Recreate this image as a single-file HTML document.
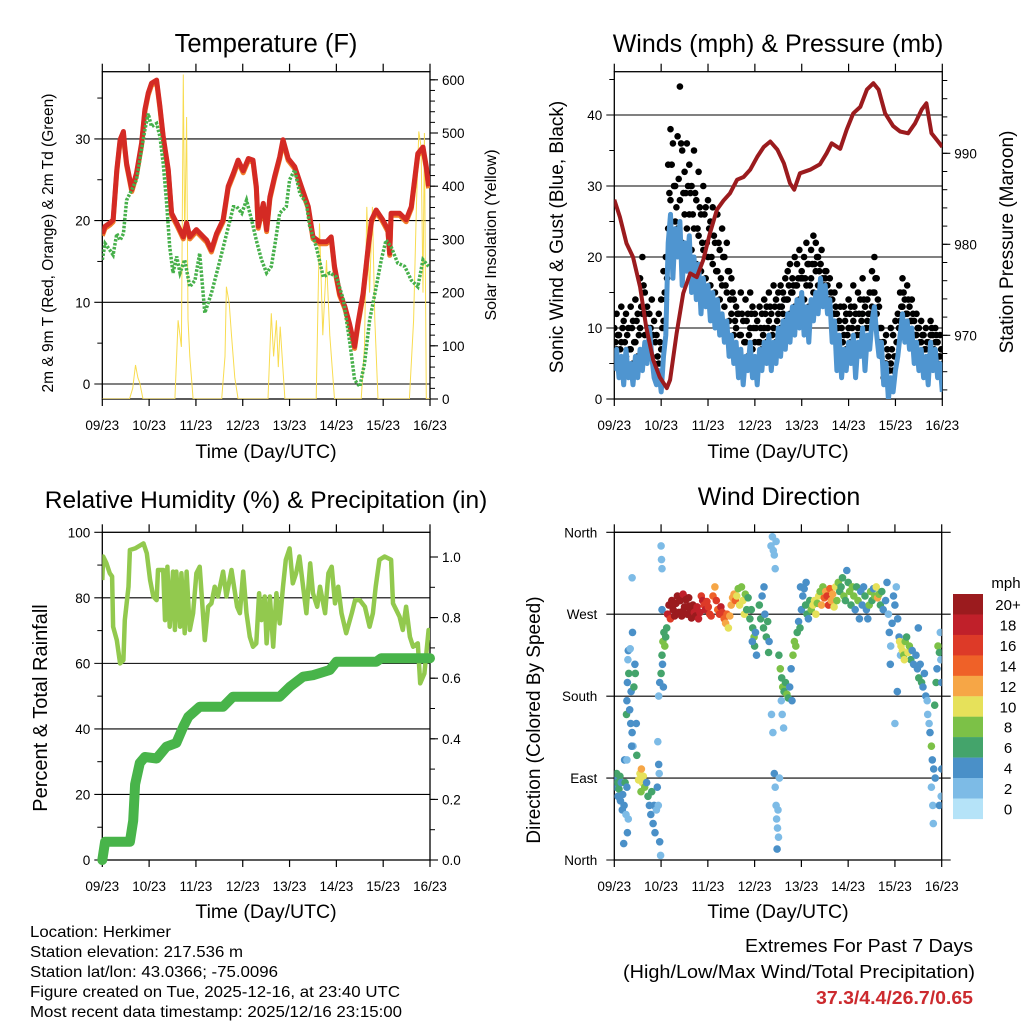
<!DOCTYPE html>
<html><head><meta charset="utf-8"><title>Herkimer station meteogram</title>
<style>
html,body{margin:0;padding:0;background:#fff;}
svg{display:block;font-family:"Liberation Sans",Arial,sans-serif;}
</style></head>
<body>
<svg id="root" width="1024" height="1024" viewBox="0 0 1024 1024" xmlns="http://www.w3.org/2000/svg">
<defs>
<clipPath id="c1"><rect x="102.3" y="71.7" width="327.7" height="327.3"/></clipPath>
<clipPath id="c2"><rect x="614.3" y="71.7" width="328" height="327.3"/></clipPath>
<clipPath id="c3"><rect x="102.3" y="532.3" width="327.7" height="327.7"/></clipPath>
<clipPath id="c4"><rect x="614.3" y="532.3" width="327.4" height="327.7"/></clipPath>
</defs>
<text x="266" y="52" font-size="25.5" text-anchor="middle">Temperature (F)</text>
<text x="778" y="52" font-size="25" text-anchor="middle">Winds (mph) &amp; Pressure (mb)</text>
<text x="266" y="508" font-size="24.5" text-anchor="middle">Relative Humidity (%) &amp; Precipitation (in)</text>
<text x="779" y="505" font-size="25" text-anchor="middle">Wind Direction</text>
<text x="266" y="458" font-size="19.5" text-anchor="middle">Time (Day/UTC)</text>
<text x="778" y="458" font-size="19.5" text-anchor="middle">Time (Day/UTC)</text>
<text x="266" y="918" font-size="19.5" text-anchor="middle">Time (Day/UTC)</text>
<text x="778" y="918" font-size="19.5" text-anchor="middle">Time (Day/UTC)</text>
<text transform="translate(53,243) rotate(-90)" font-size="15.5" text-anchor="middle">2m &amp; 9m T (Red, Orange) &amp; 2m Td (Green)</text>
<text transform="translate(496,235) rotate(-90)" font-size="16" text-anchor="middle">Solar Insolation (Yellow)</text>
<text transform="translate(563,237) rotate(-90)" font-size="19" text-anchor="middle">Sonic Wind &amp; Gust (Blue, Black)</text>
<text transform="translate(1013,242) rotate(-90)" font-size="19" text-anchor="middle">Station Pressure (Maroon)</text>
<text transform="translate(47,708) rotate(-90)" font-size="20" text-anchor="middle">Percent &amp; Total Rainfall</text>
<text transform="translate(540,720) rotate(-90)" font-size="19" text-anchor="middle">Direction (Colored By Speed)</text>
<g font-size="16">
<text x="30" y="937" textLength="141" lengthAdjust="spacingAndGlyphs">Location: Herkimer</text>
<text x="30" y="957" textLength="213" lengthAdjust="spacingAndGlyphs">Station elevation: 217.536 m</text>
<text x="30" y="977" textLength="248" lengthAdjust="spacingAndGlyphs">Station lat/lon: 43.0366; -75.0096</text>
<text x="30" y="997" textLength="370" lengthAdjust="spacingAndGlyphs">Figure created on Tue, 2025-12-16, at 23:40 UTC</text>
<text x="30" y="1017" textLength="372" lengthAdjust="spacingAndGlyphs">Most recent data timestamp: 2025/12/16 23:15:00</text>
</g>
<text x="745" y="952" font-size="18" textLength="228" lengthAdjust="spacingAndGlyphs">Extremes For Past 7 Days</text>
<text x="623" y="978" font-size="18" textLength="352" lengthAdjust="spacingAndGlyphs">(High/Low/Max Wind/Total Precipitation)</text>
<text x="816" y="1004" font-size="18" font-weight="bold" fill="#cc2a2e" textLength="157" lengthAdjust="spacingAndGlyphs">37.3/4.4/26.7/0.65</text>
</svg>
<script>
// ---- Temperature panel data ----
const tempT=[0,0.06,0.16,0.23,0.31,0.38,0.45,0.48,0.52,0.63,0.73,0.84,0.91,0.98,1.05,1.16,1.23,1.30,1.41,1.48,1.59,1.73,1.80,1.87,2.01,2.16,2.23,2.33,2.44,2.58,2.69,2.80,2.90,3.01,3.12,3.22,3.29,3.33,3.44,3.51,3.58,3.68,3.79,3.86,3.97,4.11,4.25,4.40,4.50,4.64,4.79,4.89,4.96,5.07,5.18,5.28,5.39,5.46,5.57,5.68,5.75,5.85,5.99,6.10,6.14,6.17,6.35,6.49,6.60,6.74,6.85,6.92,6.97];
const tempV=[18.4,19.3,19.7,20.1,26.2,29.9,30.9,29,27,23.8,25.8,29.5,33.6,35.6,36.8,37.2,34,30.3,26.2,20.9,19.7,18,19.7,18,18.9,18,17.6,16.4,18.4,20.1,24.2,25.8,27.4,26.1,27.6,27.4,24.2,19.3,22.1,18.9,22.9,25.4,27.8,29.9,27.6,26.6,24.2,21.7,18,17.4,17.4,18,14.4,11.1,9.5,7.4,4.6,7.4,11.1,16.8,20.1,21.3,20.1,18.9,16,20.9,20.9,20.1,21.7,28.2,29,26.6,24.2];
const dewT=[0,0.06,0.16,0.23,0.31,0.38,0.45,0.52,0.63,0.73,0.80,0.91,0.98,1.05,1.16,1.23,1.30,1.37,1.44,1.51,1.59,1.66,1.76,1.87,1.98,2.08,2.19,2.33,2.48,2.62,2.80,2.87,2.98,3.08,3.19,3.29,3.40,3.51,3.61,3.68,3.79,3.93,4.00,4.11,4.22,4.36,4.43,4.57,4.72,4.86,5.00,5.15,5.29,5.39,5.50,5.60,5.71,5.85,5.96,6.06,6.17,6.31,6.46,6.60,6.74,6.85,6.97];
const dewV=[15.2,17.2,16.4,15.8,18.4,17.6,18.4,22.5,23.8,25,27.4,31.1,33.1,31.5,31.9,30.3,27,22.5,16.8,13.6,15.6,13.6,15.2,11.9,12.7,16,8.7,11.1,14.4,17.6,21.7,21.7,20.9,22.5,20.1,17.6,15.2,13.6,14.4,16.8,20.9,21.7,25,26.2,23.3,22.1,19.3,16.8,13.1,13.6,13.1,10.3,5,0.5,-0.3,2.5,7.8,11.9,15.2,17.6,16.8,14.8,14.4,12.7,11.9,15.2,14.4];
const solarT=[0,0.58,0.65,0.71,0.76,0.80,0.87,1.55,1.62,1.69,1.73,1.76,1.80,1.83,1.87,1.94,2.55,2.62,2.65,2.71,2.76,2.83,2.90,3.54,3.61,3.66,3.72,3.76,3.80,3.90,4.57,4.64,4.71,4.79,4.86,4.96,5.53,5.60,5.65,5.71,5.77,5.82,5.89,6.56,6.65,6.71,6.76,6.81,6.85,6.88,6.92,7.0];
const solarV=[0,0,20,64,40,30,0,0,148,98,610,300,530,150,80,0,0,80,211,180,120,40,0,0,161,80,148,60,136,0,0,330,120,261,120,0,0,100,361,200,361,150,0,0,148,361,503,474,200,500,0,0];
const tempTicks=[0,10,20,30];
const solarTicks=[0,100,200,300,400,500,600];
const dayLabels=['09/23','10/23','11/23','12/23','13/23','14/23','15/23','16/23'];
// ---- Winds panel data (0.05 day spacing) ----
const windStep=0.05;
const windV=[4,7,3,6,2,7,3,5,2,6,3, 7,4,8,5,10,6,3,2,4,1, 6,9,22,26,17,24,20,25,16,22, 18,23,15,20,14,19,12,17,13,16, 11,15,10,14,9,12,8,11,6,9, 5,8,3,7,2,6,4,8,3,6, 2,7,4,8,5,9,4,8,5,10, 6,11,7,12,8,13,9,14,10,15, 9,13,8,14,11,15,12,17,13,16, 12,14,8,11,4,9,3,7,4,8, 5,9,3,8,6,10,4,9,7,11, 13,9,6,8,2,5,0,3,1,4, 6,9,12,8,11,7,10,5,8,4, 7,3,6,2,8,4,7,3,5,1];
const gustHi=[10,12,9,13,11,12,10,13,11,14,12, 17,20,15,13,12,14,11,9,12,14, 18,20,33,38,36,30,37,44,35,32, 36,33,30,35,28,32,26,30,27,28, 25,27,22,26,21,24,20,22,18,17, 14,13,12,15,11,14,12,15,13,12, 11,13,12,14,13,15,12,16,14,15, 16,15,17,18,19,17,20,19,21,18, 20,22,19,21,23,22,20,19,17,18, 16,17,14,15,12,16,10,13,12,14, 13,16,12,15,14,17,13,14,15,18, 20,17,13,10,8,9,6,10,9,11, 12,15,17,14,16,13,14,11,12,10, 11,9,10,8,11,9,10,8,9,7];
const gustMid=[8,9,7,10,8,9,7,10,8,11,9, 13,16,12,10,10,9,8,6,8,10, 15,17,29,33,30,27,31,36,29,29, 30,29,26,29,24,27,22,26,22,24, 20,23,18,22,17,20,16,18,14,15, 11,12,9,12,8,11,9,12,10,10, 8,10,9,12,10,13,9,13,11,13, 13,14,14,16,15,16,16,17,17,17, 17,19,16,19,19,20,18,21,16,18, 14,15,12,13,10,13,8,11,9,12, 10,13,9,12,11,14,10,12,12,15, 17,14,10,8,5,7,4,7,6,8, 10,13,15,12,14,11,12,9,10,8, 9,7,8,6,10,7,9,6,7,5];
const gustLo=[5,7,4,8,5,6,4,7,5,8,6, 10,12,9,7,8,6,5,4,5,7, 11,14,24,28,22,25,24,28,22,26, 24,26,21,24,19,23,18,21,17,20, 16,19,15,18,14,16,13,15,11,12, 9,10,6,9,5,8,6,10,7,8, 5,8,7,10,8,11,7,10,8,12, 10,12,11,14,12,15,13,16,14,17, 14,16,13,17,15,18,16,19,15,17, 13,14,10,12,7,11,5,9,7,10, 8,11,6,10,9,12,7,11,10,13, 15,12,8,6,3,5,2,5,4,6, 8,11,13,10,12,9,11,7,9,6, 8,5,7,4,9,6,8,5,6,3];
const presT=[0,0.12,0.26,0.40,0.55,0.68,0.83,0.97,1.12,1.19,1.33,1.47,1.62,1.76,1.90,2.04,2.19,2.33,2.47,2.62,2.76,2.90,3.05,3.19,3.33,3.48,3.62,3.75,3.84,3.96,4.18,4.39,4.53,4.64,4.82,4.96,5.10,5.25,5.39,5.53,5.64,5.78,5.95,6.10,6.27,6.42,6.56,6.66,6.77,6.88,7.0];
const presV=[984.9,983.0,980.1,978.6,975.3,970.9,967.3,965.4,964.2,965.1,970.2,974.6,976.8,976.4,978.3,981.2,983.8,984.8,985.6,987.1,987.4,988.2,989.6,990.7,991.3,990.4,988.9,986.7,986.0,987.8,988.2,988.8,990.0,991.1,990.5,992.6,994.4,995.1,997.0,997.7,997.0,994.4,993.0,992.4,992.2,993.3,994.8,995.5,992.2,991.5,990.7];
const windTicks=[0,10,20,30,40];
const presTicks=[970,980,990];
// ---- Humidity / precipitation data ----
const rhT=[0,0.02,0.09,0.16,0.21,0.23,0.31,0.38,0.45,0.48,0.56,0.59,0.70,0.88,0.95,1.02,1.09,1.16,1.19,1.30,1.34,1.39,1.44,1.51,1.55,1.58,1.66,1.69,1.76,1.80,1.87,1.94,2.01,2.08,2.19,2.26,2.33,2.40,2.47,2.58,2.65,2.76,2.88,2.94,3.01,3.08,3.15,3.22,3.29,3.35,3.40,3.47,3.51,3.58,3.65,3.72,3.79,3.86,3.92,4.00,4.07,4.14,4.21,4.29,4.36,4.44,4.50,4.59,4.65,4.76,4.83,4.90,4.97,5.04,5.11,5.21,5.33,5.40,5.50,5.61,5.71,5.78,5.84,5.92,6.03,6.17,6.21,6.35,6.42,6.49,6.57,6.64,6.74,6.79,6.88,6.97,7.0];
const rhV=[85.4,92.6,90.5,87.5,86.5,71.2,67.1,60.0,61.0,73.2,83.4,94.6,95.1,96.6,93.6,85.4,80.4,79.3,88.5,88.5,73.2,89.5,71.2,88.0,70.2,88.0,71.2,87.5,69.2,88.0,70.2,75.3,87.5,89.5,67.1,77.3,78.3,83.4,80.4,88.0,80.4,88.5,77.3,75.3,88.0,75.3,68.1,65.1,66.1,81.4,73.2,80.4,66.1,80.4,65.1,81.4,72.2,83.4,91.6,95.1,84.4,87.5,92.6,83.4,75.3,90.5,81.4,77.3,83.4,75.3,87.5,89.5,78.3,83.4,75.3,69.2,75.3,79.3,79.3,77.3,71.2,75.3,83.4,91.6,92.6,91.6,78.3,74.2,70.2,77.3,68.1,65.1,66.1,53.9,56.9,70.2,67.1];
const prT=[0,0.06,0.59,0.66,0.70,0.80,0.91,1.16,1.37,1.58,1.73,1.84,2.08,2.58,2.79,3.79,4.01,4.29,4.50,4.86,5.00,5.85,5.96,7.0];
const prV=[0.0,0.06,0.06,0.13,0.25,0.32,0.34,0.335,0.374,0.386,0.44,0.473,0.506,0.506,0.539,0.539,0.572,0.605,0.61,0.627,0.654,0.654,0.666,0.666];
const rhTicks=[0,20,40,60,80,100];
const prTicks=[0.0,0.2,0.4,0.6,0.8,1.0];
// ---- Wind direction data ----
const dirT=[0.02,0.04,0.05,0.07,0.08,0.10,0.12,0.13,0.15,0.17,0.18,0.20,0.21,0.23,0.25,0.27,0.28,0.30,0.22,0.27,
0.26,0.27,0.28,0.29,0.30,0.31,0.33,0.35,0.36,0.38,0.40,0.42,0.44,0.45,0.47,0.37,0.34,0.39,0.48,0.38,
0.52,0.55,0.58,0.60,0.62,0.65,0.57,
0.69,0.72,0.75,0.78,0.80,0.83,0.85,0.87,0.90,0.92,0.95,0.97,0.99,0.93,0.96,0.94,
0.95,0.97,1.00,1.01,1.02,1.02,
1.00,1.02,1.04,1.06,1.08,1.10,1.12,1.03,1.05,
1.14,1.17,1.20,1.23,1.26,1.29,1.32,1.35,1.38,1.41,1.44,1.47,1.50,1.53,1.56,1.59,1.62,1.65,1.68,1.71,1.74,1.77,1.80,1.83,1.86,1.89,1.92,1.95,1.98,2.01,2.04,2.07,1.25,1.46,1.60,
2.11,2.15,2.18,2.21,2.25,2.28,2.31,2.35,2.38,2.41,2.44,2.47,2.50,2.53,2.56,2.59,
2.62,2.65,2.68,2.72,2.75,2.78,2.80,2.83,2.86,2.90,2.93,2.96,2.99,3.00,3.02,3.04,2.95,
3.10,3.13,3.16,3.19,3.22,3.25,3.28,3.31,3.20,3.30,
3.52,3.55,3.58,3.60,3.63,3.66,3.69,3.72,3.75,3.78,3.80,3.57,3.59,3.62,
3.35,3.38,3.40,3.42,3.44,3.46,3.36,3.39,3.42,3.44,3.46,3.47,3.49,3.51,3.48,3.50,3.53,
3.82,3.85,3.88,3.91,3.94,3.97,4.00,4.03,4.06,4.09,4.12,4.15,4.18,4.21,3.98,4.10,
4.25,4.28,4.31,4.34,4.37,4.40,4.43,4.46,4.49,4.52,4.55,4.58,4.61,4.64,4.67,4.70,4.73,4.76,4.79,4.82,
4.85,4.88,4.91,4.94,4.97,5.00,5.03,5.06,5.09,5.12,5.15,5.18,5.21,5.24,5.27,5.30,
5.33,5.36,5.39,5.42,5.45,5.48,5.51,5.54,5.57,5.60,5.63,5.66,5.69,5.72,5.75,
5.80,5.83,5.86,5.88,5.91,5.94,5.97,6.00,6.03,6.06,6.09,6.12,5.90,6.05,6.00,
6.10,6.13,6.16,6.19,6.22,6.25,6.28,6.31,6.34,6.37,6.40,6.20,
6.45,6.48,6.51,6.54,6.57,6.60,6.63,6.66,6.69,6.50,
6.70,6.73,6.75,6.78,6.80,6.83,6.85,6.88,6.90,6.78,6.81,6.82,6.92,6.95,6.97,6.98,7.00,6.99,7.00,6.86,6.95];
const dirD=[88,80,95,85,70,78,92,65,85,55,72,18,60,85,50,80,30,45,110,110,
160,175,195,220,230,205,165,150,185,140,125,190,215,205,150,125,232,250,115,310,
88,95,100,85,92,80,75,
85,70,60,50,75,40,60,30,55,80,105,20,5,130,95,60,
180,195,345,330,320,275,
205,225,240,250,235,245,255,215,190,
270,280,265,285,275,268,282,290,272,285,268,292,278,286,270,288,275,266,280,272,268,278,265,272,290,285,280,275,284,278,270,268,282,273,279,
290,300,285,275,270,278,272,265,260,270,255,268,280,288,292,285,
290,298,280,300,285,270,292,275,288,265,275,255,245,235,250,225,240,
280,265,290,255,270,245,262,240,300,228,
225,210,200,190,185,195,182,178,190,210,175,175,160,145,
345,355,340,335,320,350,160,140,95,80,60,45,35,25,12,55,90,
225,240,235,250,262,255,275,290,298,280,270,265,285,275,300,305,
280,285,270,282,290,295,280,300,288,295,290,280,298,285,292,278,300,285,305,295,
300,310,290,285,318,305,295,280,300,290,275,300,285,265,295,280,
300,290,275,265,280,295,285,298,290,300,288,292,280,295,275,
285,305,270,250,235,260,290,280,300,265,245,225,215,185,150,
240,235,230,225,240,245,228,235,220,230,215,220,
225,210,200,215,195,190,205,180,175,255,
160,150,140,125,110,100,170,195,210,80,60,40,235,228,250,220,100,70,195,90,60];
const dirS=[4,3,5,6,4,6,5,3,4,3,4,3,4,6,2,4,3,2,3,2,
6,4,3,2,4,6,4,4,3,3,2,6,4,6,4,4,2,3,6,2,
10,10,11,9,10,8,8,
4,5,4,4,6,4,3,4,2,3,3,4,2,2,2,2,
2,3,1,2,2,4,
6,6,7,6,8,6,6,4,4,
18,20,16,21,22,20,21,20,22,21,20,18,22,21,20,22,21,20,20,18,19,17,18,17,16,18,16,17,15,16,15,16,20,19,19,
13,12,15,14,16,17,15,13,12,13,10,12,12,11,12,14,
10,8,10,8,9,10,7,6,6,6,5,6,7,5,4,4,4,
6,5,4,6,4,5,6,4,4,5,
6,7,6,7,6,6,7,6,4,4,3,2,2,2,
1,1,1,2,2,2,2,2,3,2,2,1,2,2,3,2,2,
8,7,8,6,4,5,4,4,3,5,6,4,5,8,3,4,
9,10,9,8,10,7,12,8,13,12,15,15,14,12,11,10,9,8,7,6,
6,5,7,5,4,6,7,6,8,7,4,5,8,4,3,4,
4,6,4,4,7,8,6,4,7,10,12,8,5,6,4,
3,3,2,3,2,3,3,4,2,3,4,2,3,3,2,
10,10,9,8,8,6,9,7,6,4,4,10,
4,4,6,4,6,4,4,4,2,3,
2,2,4,8,4,4,6,6,4,2,2,1,8,6,2,2,4,2,3,4,3];
const dirTicks=[0,90,180,270,360];
const dirLabels=['North','East','South','West','North'];
const speedColors=['#b5e3f8','#7dbbe6','#4a90c8','#44a46b','#7cc147','#e6e15a','#f6a646','#ef6128','#dd3a28','#c0202a','#9b1b1e'];
const speedLabels=['0','2','4','6','8','10','12','14','16','18','20+'];

const NS='http://www.w3.org/2000/svg';
const root=document.getElementById('root');
function mk(tag,attrs,parent){const e=document.createElementNS(NS,tag);for(const k in attrs)e.setAttribute(k,attrs[k]);(parent||root).appendChild(e);return e;}
const P1={x0:102.3,x1:430,y0:71.7,y1:399},P2={x0:614.3,x1:942.3,y0:71.7,y1:399},P3={x0:102.3,x1:430,y0:532.3,y1:860},P4={x0:614.3,x1:941.7,y0:532.3,y1:860};
const X=(p,t)=>p.x0+t*(p.x1-p.x0)/7;
const yT=v=>384-v*8.17, ySol=v=>399-v*0.532, yW=v=>399-v*7.1, yP=v=>335.3-(v-970)*9.1;
const yRH=v=>860-v*3.277, yPr=v=>860-v*303, yDir=d=>860-d*0.9103;
function pts(p,ts,vs,fy){return ts.map((t,i)=>X(p,t).toFixed(1)+','+fy(vs[i]).toFixed(1)).join(' ');}

function frame(p,name){
  const r=mk('rect',{x:p.x0,y:p.y0,width:p.x1-p.x0,height:p.y1-p.y0,fill:'none',stroke:'#000','stroke-width':1.3});
  
  
  for(let i=0;i<=7;i++){
    const x=X(p,i);
    const tb=mk('line',{x1:x,y1:p.y1,x2:x,y2:p.y1+7,stroke:'#000','stroke-width':1.2});
    
    
    const tt=mk('line',{x1:x,y1:p.y0-8,x2:x,y2:p.y0,stroke:'#000','stroke-width':1.2});
    
    
    const lb=mk('text',{x:x,y:p.y1+31,'font-size':13.5,'text-anchor':'middle'});
    lb.textContent=dayLabels[i];
    
    
  }
}
function leftAxis(p,name,ticks,fy,minor,grid,fmt){
  ticks.forEach(v=>{
    const y=fy(v);
    if(grid&&y>p.y0+1&&y<p.y1-1){
      const g=mk('line',{x1:p.x0-8,y1:y,x2:p.x1,y2:y,stroke:'#000','stroke-width':1.1});
      
      
    } else {
      const tk=mk('line',{x1:p.x0-8,y1:y,x2:p.x0,y2:y,stroke:'#000','stroke-width':1.1});
      
      
    }
    const l=mk('text',{x:p.x0-12,y:y+5,'font-size':13.5,'text-anchor':'end'});
    l.textContent=fmt?fmt(v):v;
    
    
  });
  minor.forEach(v=>{const y=fy(v);if(y<p.y0||y>p.y1)return;
    const m=mk('line',{x1:p.x0-5,y1:y,x2:p.x0,y2:y,stroke:'#000','stroke-width':1});
    
    });
}
function rightAxis(p,name,ticks,fy,minor,fmt){
  ticks.forEach(v=>{const y=fy(v);
    const tk=mk('line',{x1:p.x1,y1:y,x2:p.x1+8,y2:y,stroke:'#000','stroke-width':1.1});
    
    
    const l=mk('text',{x:p.x1+12,y:y+5,'font-size':13.5});
    l.textContent=fmt?fmt(v):v;
    
    });
  minor.forEach(v=>{const y=fy(v);if(y<p.y0||y>p.y1)return;
    const m=mk('line',{x1:p.x1,y1:y,x2:p.x1+5,y2:y,stroke:'#000','stroke-width':1});
    
    });
}
const range=(a,b,s)=>{const r=[];for(let v=a;v<=b+1e-9;v+=s)r.push(+v.toFixed(3));return r;};

// Panel 1
frame(P1,'temperature');
leftAxis(P1,'temperature',tempTicks,yT,[5,15,25,35],true);
rightAxis(P1,'solar',solarTicks,ySol,range(0,620,20));
const g1=mk('g',{'clip-path':'url(#c1)'});


const sol=mk('polyline',{points:pts(P1,solarT,solarV,ySol),fill:'none',stroke:'#f8dc50','stroke-width':1},g1);


const t9=mk('polyline',{points:pts(P1,tempT,tempV,yT),fill:'none',stroke:'#f07d2a','stroke-width':5,'stroke-linejoin':'round',transform:'translate(0,2)'},g1);


const t2=mk('polyline',{points:pts(P1,tempT,tempV,yT),fill:'none',stroke:'#d42a24','stroke-width':5,'stroke-linejoin':'round'},g1);


const td=mk('polyline',{points:pts(P1,dewT,dewV,yT),fill:'none',stroke:'#46b04a','stroke-width':3.5,'stroke-dasharray':'2.5,1.5'},g1);



// Panel 2
frame(P2,'winds');
leftAxis(P2,'winds',windTicks,yW,[5,15,25,35,45],true);
rightAxis(P2,'pressure',presTicks,yP,range(964,998,2));
const g2=mk('g',{'clip-path':'url(#c2)'});


const windTimes=windV.map((v,i)=>i*windStep);
[[gustLo,0],[gustMid,0.025],[gustHi,0]].forEach(([arr,off])=>arr.forEach((v,i)=>{
  const c=mk('circle',{cx:X(P2,windTimes[i]+off).toFixed(1),cy:yW(v).toFixed(1),r:3.3,fill:'#000'},g2);
  
  
}));
const wl=mk('polyline',{points:pts(P2,windTimes,windV,yW),fill:'none',stroke:'#4f95d0','stroke-width':5,'stroke-linejoin':'round'},g2);


const pl=mk('polyline',{points:pts(P2,presT,presV,yP),fill:'none',stroke:'#9b1b1e','stroke-width':4,'stroke-linejoin':'round'},g2);



// Panel 3
frame(P3,'humidity');
leftAxis(P3,'humidity',rhTicks,yRH,[10,30,50,70,90],true);
rightAxis(P3,'precip',prTicks,yPr,range(0,1.05,0.1),v=>v.toFixed(1));
const g3=mk('g',{'clip-path':'url(#c3)'});


const rl=mk('polyline',{points:pts(P3,rhT,rhV,yRH),fill:'none',stroke:'#92c94e','stroke-width':4.5,'stroke-linejoin':'round'},g3);


const prl=mk('polyline',{points:pts(P3,prT,prV,yPr),fill:'none',stroke:'#48b44a','stroke-width':10,'stroke-linejoin':'round','stroke-linecap':'round'});



// Panel 4
frame(P4,'direction');
dirTicks.forEach((d,i)=>{
  const y=yDir(d);
  const g=mk('line',{x1:P4.x0-8,y1:y,x2:P4.x1+9,y2:y,stroke:'#000','stroke-width':1.1});
  
  
  const l=mk('text',{x:P4.x0-17,y:y+5,'font-size':13.5,'text-anchor':'end'});
  l.textContent=dirLabels[i];
  
  
});
const g4=mk('g',{'clip-path':'url(#c4)'});


dirT.forEach((t,i)=>{
  const ci=Math.min(10,Math.round(dirS[i]/2));
  const c=mk('circle',{cx:X(P4,t).toFixed(1),cy:yDir(dirD[i]).toFixed(1),r:3.8,fill:speedColors[ci]},g4);
  
  
});
// Colorbar
const mph=mk('text',{x:1006,y:588,'font-size':15,'text-anchor':'middle'});
mph.textContent='mph';


for(let k=0;k<11;k++){
  const idx=10-k, y=594+k*20.45;
  const b=mk('rect',{x:953,y:y.toFixed(1),width:30,height:20.6,fill:speedColors[idx]});
  
  
  const l=mk('text',{x:1008,y:(y+16).toFixed(1),'font-size':15,'text-anchor':'middle'});
  l.textContent=speedLabels[idx];
  
  
}
</script>
</body></html>
